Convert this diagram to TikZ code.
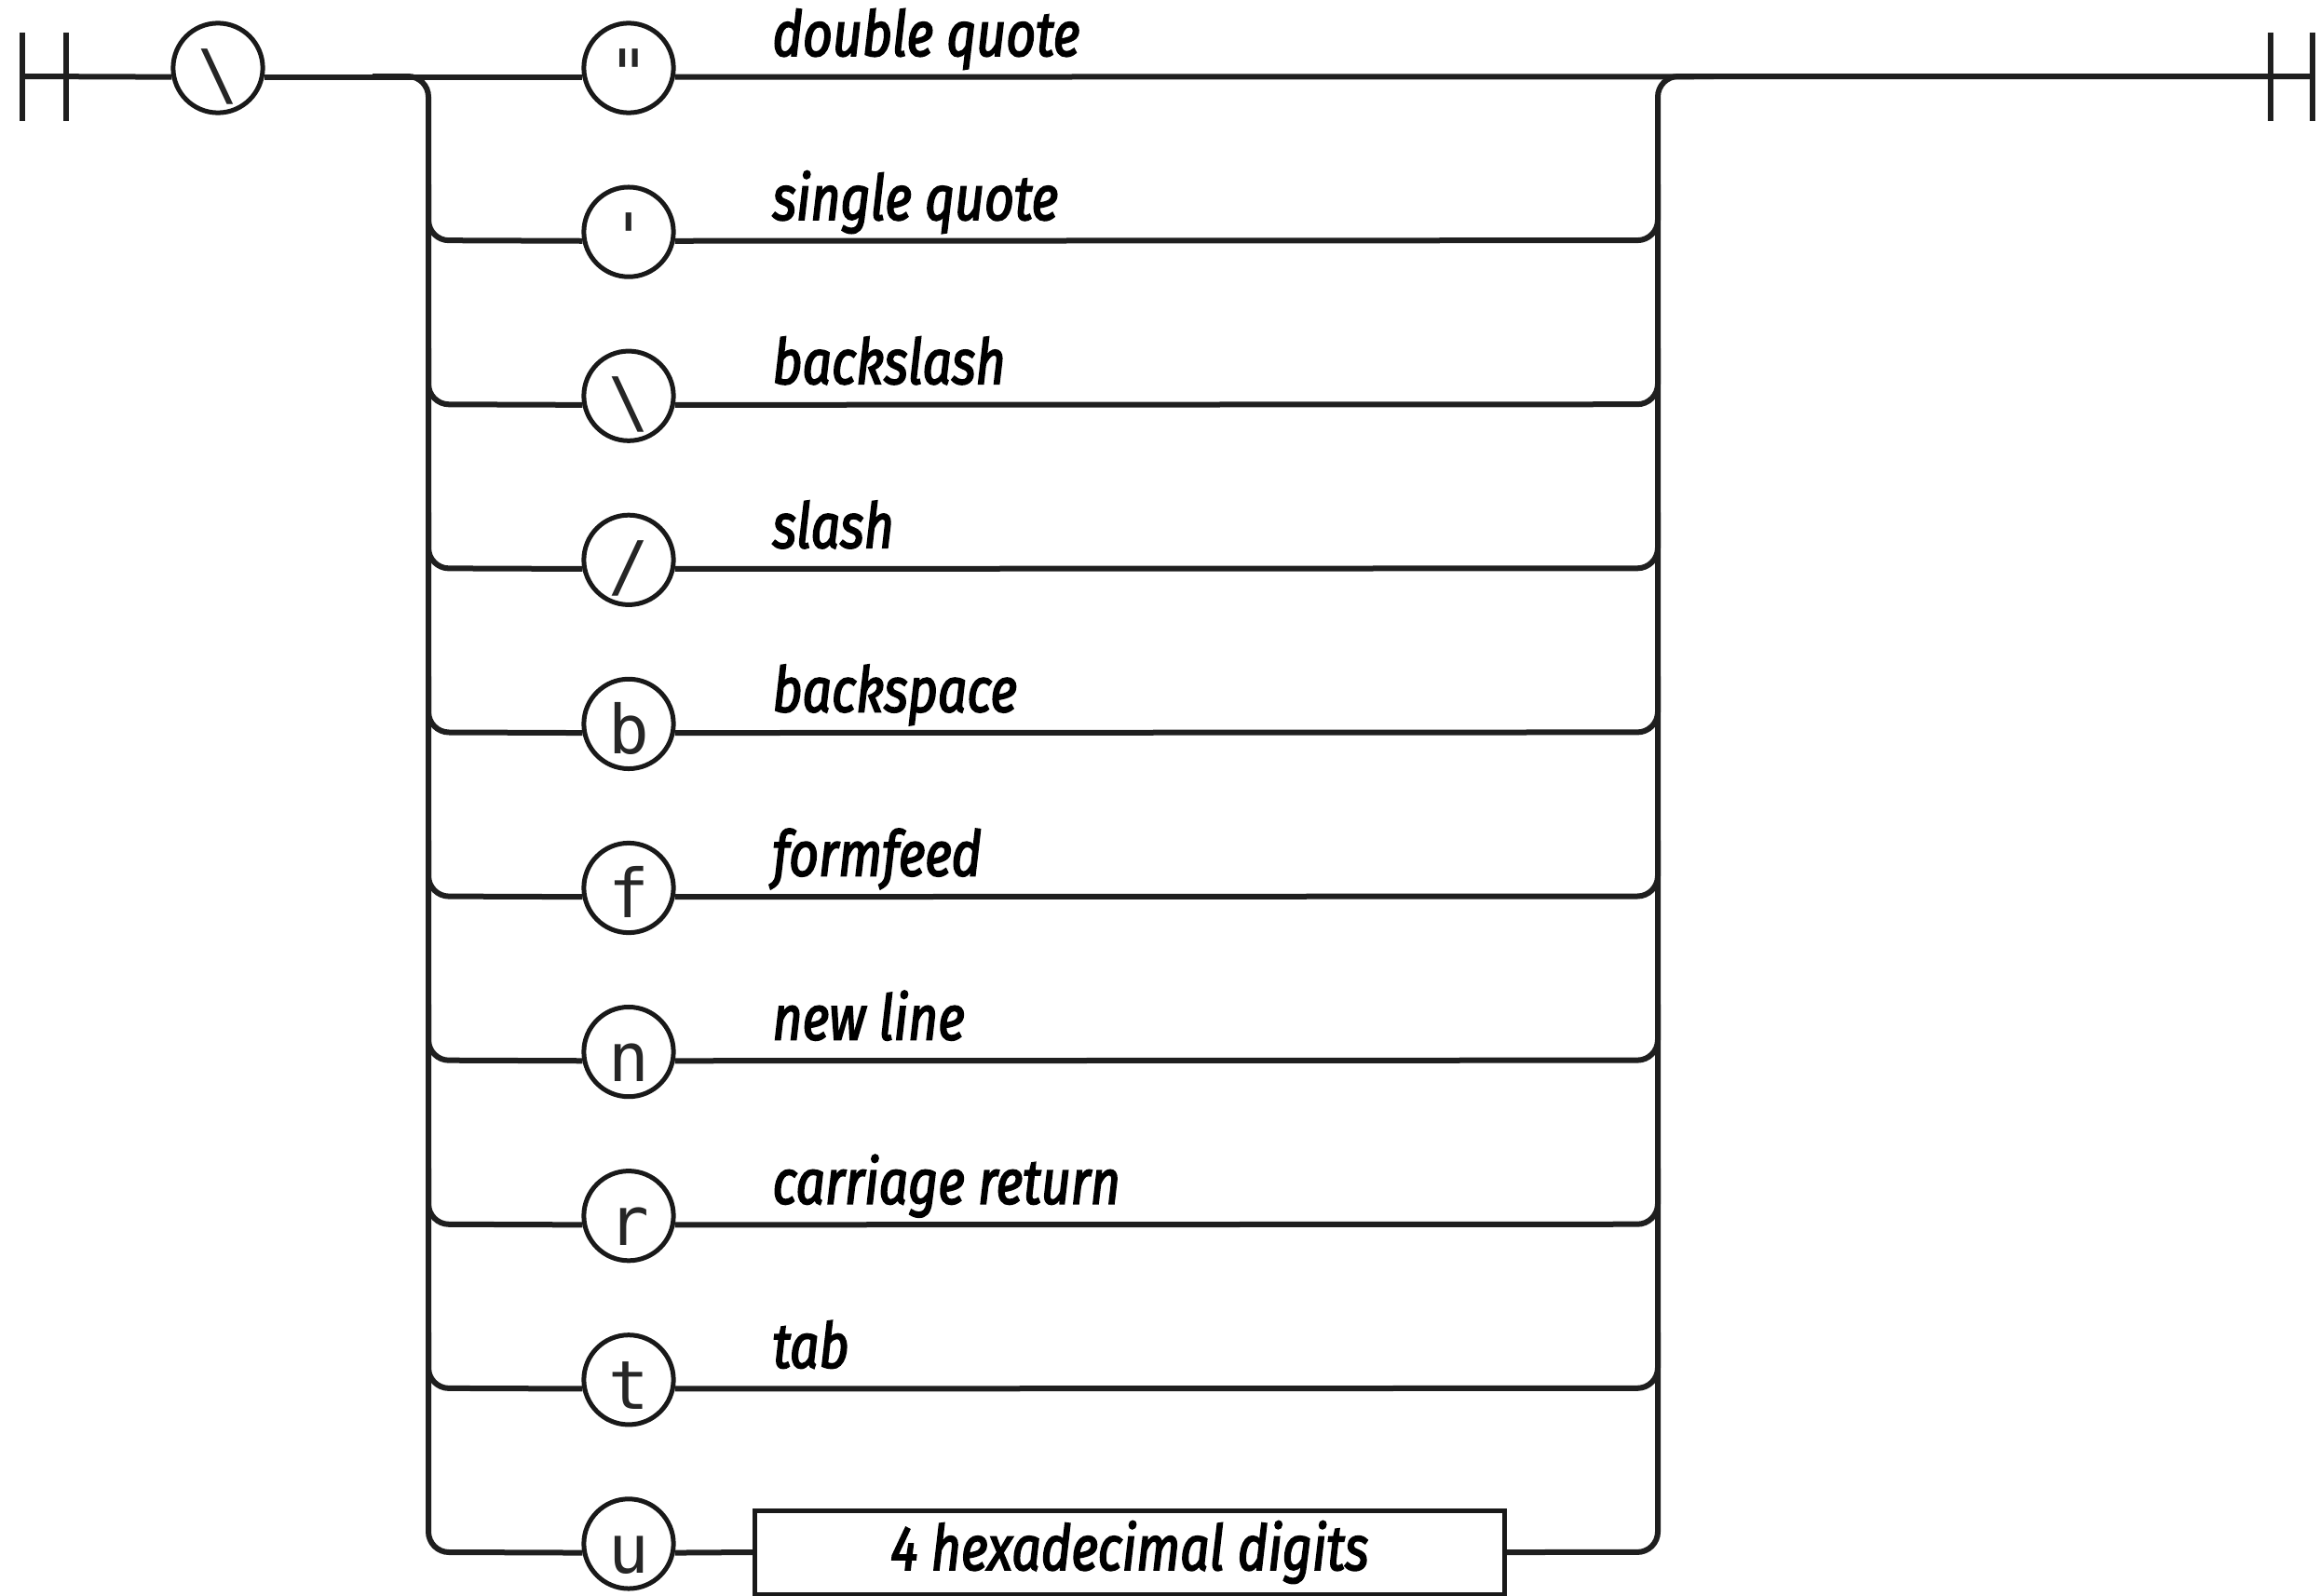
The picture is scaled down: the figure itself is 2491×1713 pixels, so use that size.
\documentclass[tikz,border=0pt]{standalone}
\usepackage{fontspec}
\setmonofont{DejaVu Sans Mono}
\newfontfamily\labfont[FakeStretch=0.82,FakeBold=2.5]{Fira Sans}
\usetikzlibrary{calc}
\begin{document}
\begin{tikzpicture}[x=0.4pt,y=-0.4pt,
  ln/.style={line width=2.4pt,color=black!88},
  rail/.style={ln,rounded corners=8.8pt},
  bar/.style={line width=2.4pt,color=black!88},
  term/.style={circle,draw=black!90,fill=white,line width=2pt,minimum size=38.5pt,inner sep=0pt},
  ch/.style={anchor=base,inner sep=0pt,font=\ttfamily\fontsize{29}{29}\selectfont,text=black!85},
  lbl/.style={anchor=base west,inner sep=0pt,font=\labfont\itshape\fontsize{27}{27}\selectfont},
  hexbox/.style={draw=black!90,line width=2pt,minimum width=322pt,minimum height=36pt,inner sep=0pt,font=\labfont\itshape\fontsize{27}{27}\selectfont}]
\useasboundingbox (0,0) rectangle (2491,1713);

% rows
\foreach \k in {0,...,9}{
  \coordinate (L\k) at (460,{82+176.1*\k});
  \coordinate (R\k) at (1780,{82+176.1*\k});
}
\coordinate (s1) at (24,82);
\coordinate (e1) at (2483,82);

% terminal bars
\draw[bar] (24,35) -- (24,130);
\draw[bar] (71,35) -- (71,130);
\draw[bar] (2438,35) -- (2438,130);
\draw[bar] (2483,35) -- (2483,130);

% start circle
\node[term] (c0) at (234,73) {};
\node[ch] (t0) at ([yshift=-12.8pt]c0.center) {\textbackslash};

% branch circles
\foreach \k/\txt in {0/{"},1/{'},2/{\textbackslash},3/{/},4/{b},5/{f},6/{n},7/{r},8/{t},9/{u}}{
  \node[term] (b\k) at (675,{73+176.1*\k}) {};
  \node[ch] (bt\k) at ([yshift=-12.8pt]b\k.center) {\txt};
}

% labels
\node[lbl] (l0) at (829,60) {double quote};
\node[lbl] (l1) at (829,{60+176.1*1}) {single quote};
\node[lbl] (l2) at (829,{60+176.1*2}) {backslash};
\node[lbl] (l3) at (829,{60+176.1*3}) {slash};
\node[lbl] (l4) at (829,{60+176.1*4}) {backspace};
\node[lbl] (l5) at (829,{60+176.1*5}) {formfeed};
\node[lbl] (l6) at (829,{60+176.1*6}) {new line};
\node[lbl] (l7) at (829,{60+176.1*7}) {carriage return};
\node[lbl] (l8) at (829,{60+176.1*8}) {tab};

% hex box
\node[hexbox] (hex) at (1213,1667) {4 hexadecimal digits};

% main line
\draw[ln] (s1) -- (c0.191);
\draw[ln] (c0.-11) -- (b0.191);
\draw[ln] (b0.-11) -- (e1);

% left rail and right rail
\draw[rail] ($(L0)+(-60,0)$) -- (L0) -- (L9) -- (b9.191);
\draw[ln] (b9.-11) -- (hex.west);
\draw[rail] (hex.east) -- (R9) -- (R0) -- ($(R0)+(60,0)$);

% middle branches
\foreach \k in {1,...,8}{
  \draw[rail] ($(L\k)+(0,-60)$) -- (L\k) -- (b\k.191);
  \draw[rail] (b\k.-11) -- (R\k) -- ($(R\k)+(0,-60)$);
}
\end{tikzpicture}
\end{document}
